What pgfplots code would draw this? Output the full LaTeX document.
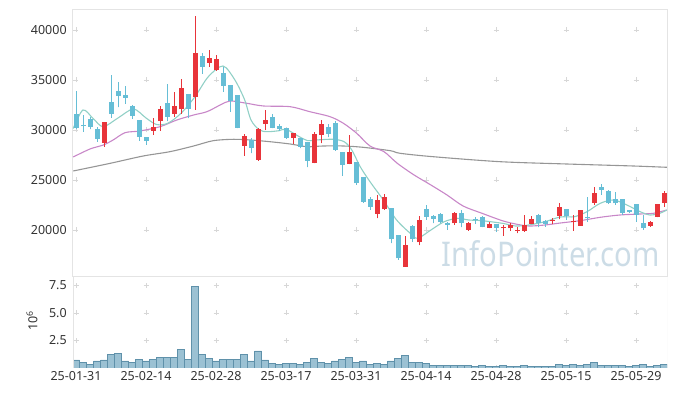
\documentclass[border=0pt]{standalone}
\usepackage{fontspec}
\setmainfont{Noto Sans}
\usepackage{pgfplots}
\pgfplotsset{compat=1.18}
\usepackage{pgfplotstable}
\definecolor{cRed}{RGB}{232,52,58}
\definecolor{cBlue}{RGB}{102,190,214}
\definecolor{cTeal}{RGB}{145,208,198}
\definecolor{cPurple}{RGB}{200,135,200}
\definecolor{cGray}{RGB}{150,150,150}
\definecolor{cVol}{RGB}{155,193,211}
\definecolor{cVolEdge}{RGB}{95,145,170}
\definecolor{cFrame}{RGB}{228,228,228}
\definecolor{cGrid}{RGB}{215,215,215}
\definecolor{cTick}{RGB}{51,51,51}
\definecolor{cWater}{RGB}{204,220,230}

% up (red) candles: close >= open
\pgfplotstableread{
i O H L C
4 28730 30800 28330 30800
11 29930 31230 29500 30330
12 30930 32430 29930 32100
14 31630 33830 31330 32400
15 32070 35070 31600 34170
17 33330 41400 32000 37670
19 36730 38000 36330 37170
20 36000 37500 35930 37100
24 28430 29600 27430 29400
26 27000 30200 26900 30100
27 30600 32000 30000 31000
31 29230 29730 28600 29730
34 26730 29830 26670 29600
35 29500 31000 28670 30600
39 26600 29500 26570 27830
43 21600 23500 21170 23000
44 22070 23600 22000 23270
47 16330 19430 16300 18500
49 18770 21400 18470 21000
54 20670 21830 20500 21730
56 20000 20830 19900 20670
59 20230 20830 20170 20600
61 20170 20500 19430 20330
62 20170 20670 19930 20500
63 19930 20330 19670 20030
64 19900 21500 19830 20500
65 20600 21400 20570 21100
68 20900 21230 20570 21000
69 21400 22670 21070 22270
71 20830 21500 19930 20930
72 20430 22000 20400 22000
74 22730 24330 22500 23730
82 20430 20870 20330 20770
83 21330 22600 21270 22600
84 22730 23930 22330 23730
}\upTable

% down (blue) candles: close < open
\pgfplotstableread{
i O H L C
0 31600 33900 30070 30230
1 30450 31500 29830 30350
2 31100 31330 30070 30330
3 30100 30330 28830 29130
5 32800 35470 31230 31630
6 33900 34800 32270 33400
7 33500 34370 32600 33200
8 32430 32500 31130 31400
9 31000 31000 28930 29300
10 29330 29330 28500 28930
13 32670 34600 30870 31330
16 33600 33600 31170 32130
18 37400 37670 35600 36330
21 35670 36330 33830 34400
22 34500 34500 31830 32930
23 33500 33500 30170 30230
25 29000 29230 27670 28230
28 31330 31600 30170 30230
29 30430 30600 29930 30100
30 30230 30230 29100 29230
32 29230 29230 28170 28330
33 28830 28830 26270 26900
36 30330 30600 29270 29600
37 30730 30930 27900 28000
38 27770 27770 25430 26500
40 26830 26830 24500 24670
41 25330 25330 22730 22830
42 23100 23330 22000 22330
45 22170 22170 18670 19070
46 19500 19500 17000 17170
48 20400 20500 18830 19070
50 22070 22500 21000 21330
51 21430 21500 20670 21100
52 21600 21730 20670 20830
53 20730 20830 20000 20500
55 21670 22000 20270 20670
57 21100 21330 20600 20970
58 21330 21400 20270 20330
60 20600 20600 19830 20230
66 21500 21570 20270 20670
67 20900 21000 20330 20600
70 22100 22100 21000 21430
73 21330 23270 20830 21170
75 24330 24600 23500 24000
76 23900 24000 22600 22670
77 23100 23770 22500 22670
78 23070 23070 21500 21730
79 22000 22000 21730 21830
80 22570 22570 20830 21500
81 20670 21500 20000 20170
}\downTable

\pgfplotsset{candle/.style={only marks, mark=*, mark size=0pt,
  mark options={draw=none, fill=none},
  error bars/.cd, y dir=plus, y explicit, error mark=none}}

\begin{document}
\begin{tikzpicture}
\node[anchor=base west, text=cWater, font=\fontsize{34}{34}\selectfont, xscale=0.86, inner sep=0pt] at (441.7pt,129.3pt) {InfoPointer.com};

\begin{axis}[
  at={(73pt,119pt)}, anchor=south west,
  width=594pt, height=267pt, scale only axis,
  xmin=-0.43, xmax=84.43, ymin=15300, ymax=42000,
  xtick={0,10,...,80}, xticklabel=\empty,
  ytick={20000,25000,...,40000},
  scaled y ticks=false,
  /pgf/number format/1000 sep={},
  /pgf/number format/assume math mode=true,
  major tick length=0pt,
  tick style={draw=none},
  ticklabel style={font=\fontsize{12.5}{14}\selectfont, text=cTick},
  yticklabel style={xshift=-2.8pt},
  axis line style={cFrame, line width=1pt},
  grid=major,
  major x grid style={cGrid, line width=0.9pt, dash pattern=on 5pt off 45pt, dash phase=5.5pt},
  major y grid style={cGrid, line width=0.9pt, dash pattern=on 5pt off 65pt, dash phase=69.5pt},
]
\addplot[cGray, line width=1.1pt, smooth] coordinates {
(-0.4,25900) (4.9,26670) (9.6,27400) (13.4,27830) (16.8,28400) (19.6,28930)
(22.5,29070) (24.9,29000) (27.7,28830) (30.6,28600) (33,28330) (35.3,28400)
(38.2,28400) (41,28270) (44.9,27930) (46.3,27670) (51,27330) (60.6,26830)
(70.1,26600) (79.6,26400) (84.4,26270)};
\addplot[cPurple, line width=1.1pt, smooth] coordinates {
(-0.4,27300) (2,28100) (3.9,28500) (5.3,29000) (7,29730) (9.1,29900) (12,30330)
(14.4,31000) (16.8,31500) (18.7,31830) (20.6,32500) (22,32900) (24.4,32670)
(26.8,32400) (30.6,32330) (33.4,31830) (36.3,31330) (38.2,30670) (40.1,29670)
(42,28400) (44,27830) (45.9,26670) (48.3,25500) (50.7,24500) (53,23500)
(55.3,22400) (58,21670) (60.9,20930) (62.8,20600) (64.7,20400) (67,20500)
(69.2,20700) (72,20930) (74.9,21270) (77.7,21500) (80.6,21600) (82.5,21670) (84.4,22000)};
\addplot[cTeal, line width=1.1pt, smooth] coordinates {
(-0.4,30150) (1,32000) (2.5,31100) (3.9,30330) (6,31200) (8.2,32100) (10,31200)
(11.5,30550) (13.1,30670) (15,31670) (17,33330) (18.9,35330) (21,36400)
(22.7,35000) (24.1,33000) (25,31000) (26.2,30000) (27.4,29830) (29,29930)
(30,30070) (31.9,29330) (33.1,28930) (34.3,29000) (36.7,29070) (38.3,28830)
(39.4,28000) (40.6,26330) (42,24830) (43.9,23000) (45.8,21000) (47.7,19700)
(48.8,19170) (50.7,20000) (52.6,20830) (54.5,21170) (56.1,21000) (58,20930)
(60.9,20670) (62.8,20400) (64.7,20500) (67,20830) (69.2,21300) (71.2,21330)
(73,21830) (74.9,22670) (76.8,23000) (78.7,22500) (80.6,21830) (82,21500)
(83.4,21670) (84.4,22000)};

% wicks
\addplot[candle, error bar style={cBlue, line width=1pt}]
  table[x=i, y=L, y error expr=\thisrow{H}-\thisrow{L}] {\downTable};
\addplot[candle, error bar style={cRed, line width=1pt}]
  table[x=i, y=L, y error expr=\thisrow{H}-\thisrow{L}] {\upTable};
% bodies
\addplot[candle, error bar style={cBlue, line width=5pt}]
  table[x=i, y=C, y error expr=\thisrow{O}-\thisrow{C}] {\downTable};
\addplot[candle, error bar style={cRed, line width=5pt}]
  table[x=i, y=O, y error expr=\thisrow{C}-\thisrow{O}] {\upTable};
\end{axis}

\begin{axis}[
  at={(73pt,28pt)}, anchor=south west,
  width=594pt, height=91pt, scale only axis,
  xmin=-0.43, xmax=84.43, ymin=0, ymax=8.2727,
  xtick={0,10,...,80},
  xticklabels={25-01-31,25-02-14,25-02-28,25-03-17,25-03-31,25-04-14,25-04-28,25-05-15,25-05-29},
  ytick={2.5,5,7.5},
  /pgf/number format/assume math mode=true,
  major tick length=0pt,
  tick style={draw=none},
  ticklabel style={font=\fontsize{12.5}{14}\selectfont, text=cTick},
  yticklabel style={xshift=-2.8pt, /pgf/number format/.cd, fixed, fixed zerofill, precision=1},
  ylabel={10\textsuperscript{6}},
  ylabel style={font=\fontsize{12.5}{14}\selectfont, text=cTick, at={(axis description cs:-0.069,0.516)}, anchor=center},
  axis line style={draw=none},
  grid=major,
  major x grid style={cGrid, line width=0.9pt, dash pattern=on 5pt off 22.5pt, dash phase=2.5pt},
  major y grid style={cGrid, line width=0.9pt, dash pattern=on 5pt off 65pt, dash phase=69.5pt},
]
\addplot[ybar, bar width=7pt, fill=cVol, draw=cVolEdge, line width=0.6pt] coordinates {
(0,0.73) (1,0.52) (2,0.33) (3,0.64) (4,0.73) (5,1.24) (6,1.36) (7,0.64) (8,0.52) (9,0.79)
(10,0.64) (11,0.79) (12,0.97) (13,0.97) (14,0.97) (15,1.70) (16,0.79) (17,7.45) (18,1.24) (19,0.88)
(20,0.64) (21,0.79) (22,0.79) (23,0.79) (24,1.24) (25,0.64) (26,1.55) (27,0.73) (28,0.42) (29,0.33)
(30,0.42) (31,0.42) (32,0.33) (33,0.52) (34,0.88) (35,0.52) (36,0.42) (37,0.64) (38,0.79) (39,0.97)
(40,0.52) (41,0.64) (42,0.33) (43,0.42) (44,0.33) (45,0.64) (46,0.88) (47,1.15) (48,0.52) (49,0.52)
(50,0.42) (51,0.24) (52,0.24) (53,0.24) (54,0.24) (55,0.24) (56,0.24) (57,0.12) (58,0.24) (59,0.12)
(60,0.12) (61,0.24) (62,0.12) (63,0.12) (64,0.24) (65,0.12) (66,0.12) (67,0.12) (68,0.12) (69,0.33)
(70,0.24) (71,0.33) (72,0.24) (73,0.33) (74,0.52) (75,0.24) (76,0.24) (77,0.24) (78,0.24) (79,0.12)
(80,0.24) (81,0.33) (82,0.12) (83,0.24) (84,0.33)};
\draw[cFrame, line width=1pt] (rel axis cs:0,0) -- (rel axis cs:0,1) -- (rel axis cs:1,1) -- (rel axis cs:1,0);
\end{axis}
\pgfresetboundingbox
\useasboundingbox (0,0) rectangle (677pt,396pt);
\end{tikzpicture}
\end{document}
